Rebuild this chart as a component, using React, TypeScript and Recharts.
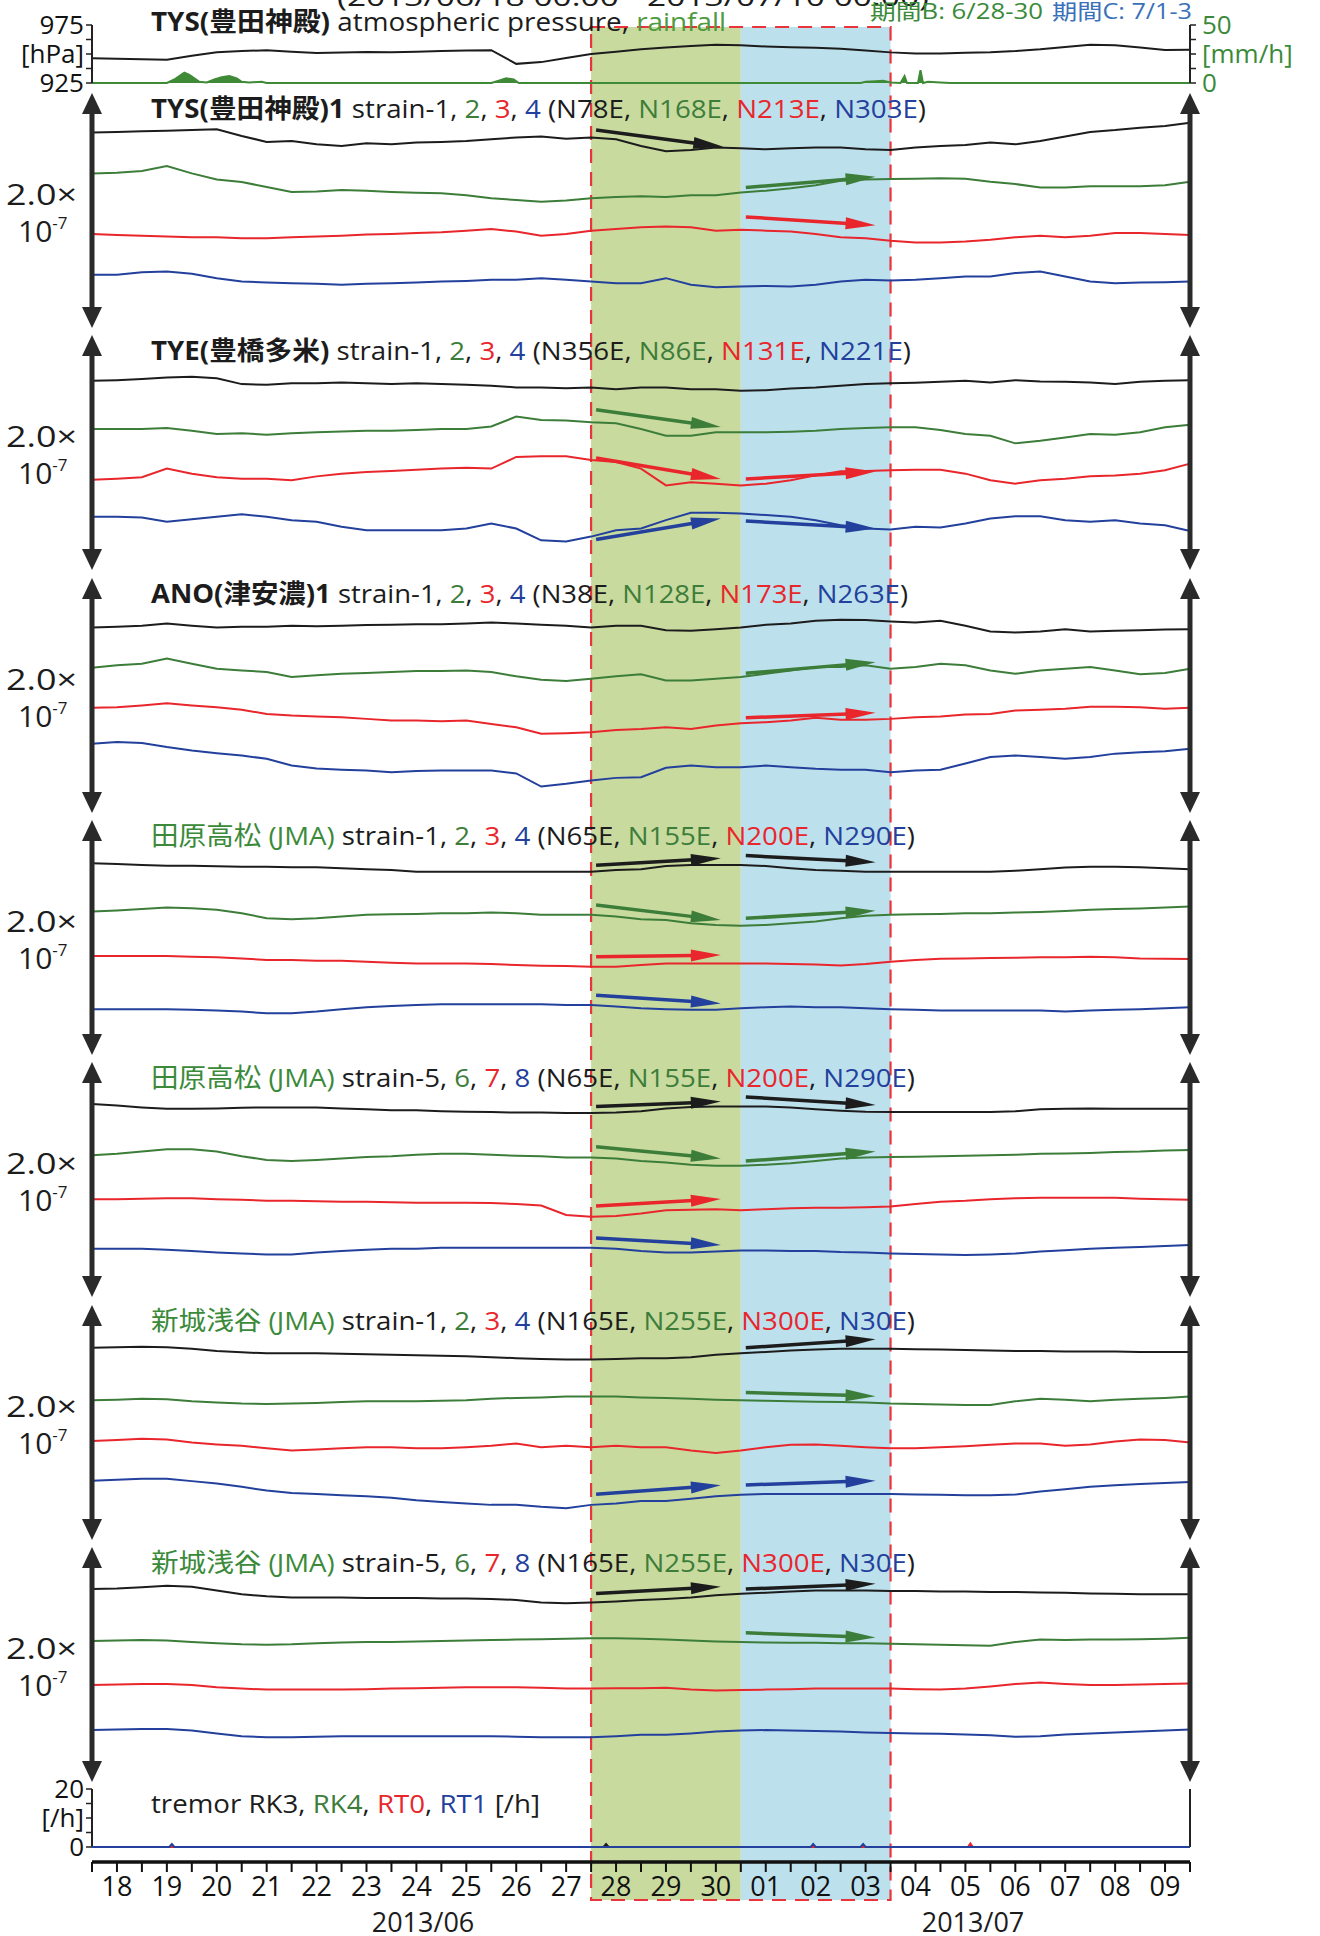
import React from "react";
import { ComposedChart, LineChart, Line, Area, XAxis, YAxis, ReferenceLine, ReferenceArea } from "recharts";

const FONT = '"Open Sans", "Noto Sans CJK JP", sans-serif';
const BLACK = "#1c1c1c";
const GREEN = "#3d7d3a";
const RED = "#e8262b";
const BLUE = "#22409c";
const LABEL_GREEN = "#3a8a3a";
const COLORS = [BLACK, GREEN, RED, BLUE];

// days since 2013/06/18 00:00, every 12 h
const times = [0, 0.5, 1, 1.5, 2, 2.5, 3, 3.5, 4, 4.5, 5, 5.5, 6, 6.5, 7, 7.5, 8, 8.5, 9, 9.5, 10, 10.5, 11, 11.5, 12, 12.5, 13, 13.5, 14, 14.5, 15, 15.5, 16, 16.5, 17, 17.5, 18, 18.5, 19, 19.5, 20, 20.5, 21, 21.5, 22];
const dayLabels = ["18", "19", "20", "21", "22", "23", "24", "25", "26", "27", "28", "29", "30", "01", "02", "03", "04", "05", "06", "07", "08", "09"];
const periodB = [10, 13];
const periodC = [13, 16];

// TYS atmospheric pressure [hPa]
const pressure = [946.4, 946, 945.5, 945, 948.5, 951.5, 952.5, 953.3, 952, 950.8, 951.4, 951.8, 951.5, 952, 952.5, 953, 953.3, 941.5, 943, 946.5, 950, 952, 954, 955.5, 957, 958, 957.5, 956.5, 955.8, 955.3, 954.6, 953, 951.4, 950.5, 950.5, 951, 951.5, 952.5, 954, 956, 958, 957.5, 955.6, 953.5, 953.6];
// rainfall [mm/h] as [day, value]
const rainfall = [[0, 0], [1.5, 0], [1.65, 3], [1.75, 6], [1.85, 9], [1.95, 7], [2.05, 4], [2.15, 1], [2.3, 0.5], [2.45, 3], [2.6, 5], [2.75, 6], [2.9, 4], [3.0, 1], [3.15, 0.5], [3.4, 1], [3.5, 0], [8.0, 0], [8.15, 2], [8.3, 4], [8.45, 3], [8.55, 0], [15.4, 0], [15.5, 1], [15.7, 1.5], [15.85, 2], [16.0, 0.5], [16.2, 0], [16.28, 6], [16.33, 0], [16.55, 0], [16.6, 11], [16.65, 0], [16.75, 1], [17.0, 0.5], [17.2, 0], [22, 0]];

// strain changes (relative, approx. 1e-9) per component
const tys1 = [0, 0.5, 1, 1.4, 2, 2.7, -2.7, -7.6, -6.8, -9.5, -10.8, -8.6, -9.5, -8, -7.6, -6.8, -5.4, -4, -3.2, -4.9, -4, -5.4, -10.8, -15, -14, -12, -12.7, -13.5, -12.7, -12, -12, -13.5, -14, -12, -10.8, -10, -8, -9.5, -6.8, -3.2, 0.5, 2, 4, 5.4, 8];
const tys2 = [0, 0.5, 2, 6, 0, -5, -7, -11, -15, -14.6, -13.5, -14, -15, -15.7, -16, -17.6, -20, -21.6, -23, -22, -20, -19, -18.4, -19, -17.6, -17.6, -15.4, -14, -12, -9.5, -6, -5, -4.6, -4.3, -4, -4.3, -6.8, -8.6, -11.4, -11.4, -10.3, -10.3, -10.3, -9.5, -6.8];
const tys3 = [0, -0.8, -1.4, -2, -2.7, -2.7, -3.5, -3.5, -2.7, -2, -1.4, -0.5, 0, 0.8, 1.4, 2.7, 4, 2, -1.4, 0, 2.7, 4, 5.4, 6, 5.4, 2.7, 3.5, 2.7, 2, 0, -2.7, -3.5, -5.4, -6.8, -6.8, -6, -4.6, -2.7, -1.4, -2.7, -1.4, 0.8, 0.8, 0, -0.8];
const tys4 = [0, 0, 2, 2.7, 0.8, -2.7, -5.4, -6.2, -6.8, -7.3, -8, -7.3, -6.8, -6.2, -5.4, -4.9, -4, -4, -2.7, -4, -5.4, -6.8, -6.8, -2.7, -8, -10, -9.5, -9, -9.5, -8, -5.4, -4, -4.6, -4, -2.7, -1.4, -1.4, 1.4, 2.7, -1.4, -5.4, -6.8, -6.2, -6, -5.4];

const tye1 = [0, 0.5, 1.4, 2.7, 3.2, 2, -2.7, -3.2, -2, -2, -1.4, -2, -2.7, -2, -2.7, -3.2, -4, -5.4, -5.4, -6, -5.4, -6.8, -5.4, -5.4, -6.8, -6.8, -8, -7.6, -6.2, -5.4, -4, -2.7, -2, -1.6, -0.8, 0, -1.4, 0.5, -0.5, -0.8, -1.4, -2.7, -0.8, 0, 0.5];
const tye2 = [0, 0, 0, 0.8, -1.4, -4, -3.5, -4.6, -3.5, -2.7, -2, -1.4, -1.4, -0.8, 0, 0, 2, 10, 7.3, 6.8, 5.4, 4.6, 0, -5.4, -5.4, -2.7, -2.7, -2.7, -2.2, -1.4, 0, 0.8, 1.4, 1.4, -0.8, -4, -5.4, -11.6, -9.5, -6.8, -4, -4.6, -2.7, 1.4, 3.5];
const tye3 = [0, 0.8, 2, 9, 4.9, 2, 0.8, 0.8, -0.5, 2.7, 4.9, 6.2, 7, 8, 9, 9.7, 9, 18.4, 19, 19, 16, 14.3, 9, -4.6, -2, -3.2, -4.6, -3.2, -0.5, 3.5, 6.8, 7, 7.6, 8, 8, 4.9, -0.5, -3.2, -0.5, 0.8, 2.7, 3.5, 4.9, 7.6, 13];
const tye4 = [0, 0, -0.5, -4, -2, 0, 2, 0, -2.7, -4, -8, -10.8, -10.8, -10.8, -10.8, -9.5, -5.4, -9.5, -19, -20, -16, -10.8, -9.5, -2.7, 3.2, 3.2, 2.7, 1.4, 0, -2.7, -6.8, -9.5, -10.3, -8, -8.6, -5.4, -1.4, 0.5, 0.5, -2.7, -4, -2.7, -5.4, -6.8, -11.4];

const ano1 = [0, 0.5, 1.4, 3.2, 1.4, 0, 0.5, 0.5, 1.4, 1, 1.4, 2, 2.2, 2.7, 2.7, 3.2, 4, 3.2, 2.2, 1.4, 0, 1.4, 1.4, -2.2, -2.7, -1.4, 0, 2.2, 3.2, 5.4, 6.2, 6, 4.9, 4, 5.4, 1.4, -3.2, -4, -3.2, -1.4, -3.2, -2.7, -2.2, -1.6, -1.4];
const ano2 = [0, 2, 3.2, 7.3, 3.2, -0.8, -2.2, -3.5, -7.6, -6.2, -4.9, -4.3, -3.5, -2.7, -2.7, -2.2, -3.5, -7, -9.7, -10.8, -8.9, -7, -5.4, -10.3, -10.3, -8.9, -7.6, -4.9, -2.2, 0.5, 0.5, 2, -0.8, 0.5, 3.2, 2, -2.2, -4.9, -2.2, -0.8, 0.5, -2.2, -5.4, -4.3, -0.8];
const ano3 = [0, 0.5, 2, 3.8, 2, 0.5, -1.6, -4.9, -6.2, -7, -7.6, -8.9, -10.3, -10.3, -10.8, -10.3, -13, -15.7, -21, -20.5, -19.7, -17.8, -17, -15.7, -17, -14.3, -12.4, -11.6, -10.3, -8, -9.7, -9.7, -8.9, -7.6, -7, -5.4, -4.9, -2.2, -1.6, -0.8, 1, 1, 0.5, -0.8, 0];
const ano4 = [0, 1.4, 0.5, -2.7, -5.4, -7.6, -9.5, -12.2, -17.6, -20, -21, -21.6, -23, -22, -21.6, -21.6, -21.6, -24, -34.6, -32.4, -29.7, -27.6, -27, -19.5, -17.6, -19, -19, -17.6, -19, -20.3, -21, -21, -23, -21.6, -21, -16, -10.8, -9.5, -10.8, -12.2, -10.8, -8, -6.8, -6, -4];

const tkm1 = [0, -0.5, -1.4, -2, -2, -2.4, -2.7, -2.7, -3.2, -3.2, -4, -4.9, -5.4, -6.8, -6.8, -6.8, -6.8, -6.8, -6.8, -6.8, -6.8, -5.4, -4.9, -2.2, -1.4, -1.4, -1.4, -2.2, -4, -5.4, -6, -6.8, -6.8, -6.8, -6.8, -6.8, -6.8, -6, -4.9, -3.5, -2.7, -2.7, -3.2, -4, -4.9];
const tkm2 = [0, 0.8, 2, 3.2, 2.7, 1.4, -1.4, -5.4, -6.2, -5.4, -4, -2.7, -2.2, -1.9, -1.4, -1.4, -0.8, -1.4, -2.7, -2.7, -2.7, -4, -6.2, -6.8, -9.5, -10.8, -11.4, -10.8, -9.5, -8, -5.4, -3.5, -2.7, -2.2, -1.9, -1.4, -1.4, -0.8, -0.3, 0.5, 1.4, 2, 2.4, 3.2, 4];
const tkm3 = [0, 0, 0, 0, -0.5, -1, -1.9, -3.2, -3.2, -3.8, -3.8, -4.6, -5.4, -6, -6, -6, -6.5, -7.3, -7.8, -8, -8.6, -8.6, -7.3, -6, -6, -6, -6, -6, -6.5, -6.8, -7.6, -6.5, -4.6, -3.2, -2.2, -1.9, -1.6, -1.4, -1, -1, -0.5, -1, -1.9, -2.2, -2.4];
const tkm4 = [0, 0, 0, 0, -0.5, -1, -1.9, -3.2, -3.2, -1.9, 0, 1.6, 2.7, 3.5, 4, 4, 4, 4, 4, 3.5, 3.5, 2.2, 0.8, 0, -0.5, -0.5, 0.8, 1.6, 2.2, 1.6, 1.6, 0.8, 0, -0.5, -1, -1, -1, -1, -1, -1.9, -1, -0.5, 0, 0.8, 1.6];

const tkm5 = [0, -1.2, -2.7, -3.8, -3.8, -3.5, -3, -2.7, -2.7, -2.7, -3.5, -4.2, -5, -5, -5.8, -6.2, -6.5, -6.9, -6.9, -7.3, -7.3, -6.9, -5.8, -3.5, -2.3, -1.9, -1.9, -1.9, -2.7, -4.2, -5.4, -6.2, -6.5, -6.5, -6.5, -6.5, -6.5, -5.8, -4.2, -3.8, -3.5, -3.8, -3.8, -3.8, -3.8];
const tkm6 = [0, 1.2, 3, 4.9, 4.9, 3, -0.8, -3.8, -4.6, -3.8, -2.7, -1.5, -0.8, 0.4, 1.2, 1.2, 0.4, -0.4, -0.8, -1.9, -1.9, -2.7, -4.6, -5.8, -7.7, -8.5, -8.5, -7.7, -6.5, -4.6, -2.7, -1.9, -1.5, -1.2, -0.8, -0.4, 0, 0.4, 1.2, 1.5, 1.9, 2.7, 3, 3.8, 4.2];
const tkm7 = [0, 0, 0.4, 0.8, 0.8, 0, -0.4, -1.2, -1.2, -1.5, -1.9, -1.9, -2.3, -2.7, -2.7, -2.7, -3, -3.8, -5, -12.7, -14.2, -13.5, -11.5, -8.8, -8.5, -8, -8.8, -8, -7.3, -6.9, -6.9, -6.5, -5.8, -3.8, -1.9, -1.2, 0, 0.8, 1.2, 1.2, 1.2, 1.2, 0.4, 0, -0.4];
const tkm8 = [0, 0, 0, -0.8, -1.9, -3, -3.8, -4.6, -4.6, -3, -1.9, -0.8, 0, 0, 0.8, 0.8, 0.8, 0.8, 0.8, 0.8, 0.8, 0, -1.9, -3, -3, -2.3, -1.5, -1.5, -1.9, -1.9, -2.7, -3, -3.8, -4.2, -4.6, -5, -4.6, -3.8, -2.3, -1.2, 0, 0.8, 1.5, 2.3, 3];

const asa1 = [0, 0.4, 0.8, 0.4, -0.8, -2.7, -3.8, -4.6, -4.6, -4.6, -5, -5.4, -5.8, -6.1, -6.5, -6.9, -7.7, -8.5, -9.2, -9.6, -9.6, -9.2, -8.5, -8.5, -7.7, -5.8, -4.6, -3.5, -2.3, -1.5, -0.8, -0.8, -0.8, -1.2, -1.5, -1.9, -2.3, -2.7, -2.7, -3, -3, -3, -3.5, -3.5, -3.5];
const asa2 = [0, 0.4, 1.2, 0.8, -0.8, -1.9, -2.7, -3, -2.7, -2.3, -1.5, -0.8, -0.8, -0.8, -0.4, 0, 1.2, 1.9, 2.3, 3, 3, 3, 2.3, 1.9, 1.2, 0.4, 0, -0.4, -0.8, -1.2, -1.5, -1.9, -2.7, -3, -3.5, -3.8, -3.8, -0.8, 1.2, 0.4, -0.8, 0.4, 1.2, 1.9, 3];
const asa3 = [0, 0.8, 1.9, 1.2, -1.2, -2.7, -3.8, -5.8, -7.7, -6.9, -5.8, -5, -5, -5.8, -5.8, -5, -3.8, -1.9, -5, -3.8, -5, -3.8, -5, -5, -7.7, -9.6, -7.7, -5, -3, -2.7, -3.8, -5, -5.8, -5.8, -5, -4.2, -3, -1.9, -1.9, -3.8, -2.7, -0.4, 1.2, 0.8, -1.2];
const asa4 = [0, 0.8, 1.5, 1.5, -0.4, -2.3, -5, -8, -10, -10.8, -11.9, -12.7, -13.8, -15.8, -17.3, -18.5, -19.6, -19.6, -21.2, -22.3, -19.6, -18.5, -16.5, -16.5, -14.6, -12.7, -11.5, -10.8, -10.8, -10.8, -10.8, -10.8, -10.8, -11.2, -11.5, -11.9, -11.9, -11.2, -8.8, -6.9, -5, -3.8, -2.7, -1.9, -1.2];

const asa5 = [0, 0.4, 1.5, 2.7, 1.9, -1.2, -4.2, -5.8, -6.9, -6.9, -6.9, -7.3, -7.3, -7.3, -7.7, -7.7, -8, -8.8, -10.8, -11.5, -10.8, -10, -8.8, -8, -6.9, -5, -3.8, -3, -1.9, -1.2, -1.2, -1.2, -1.5, -1.5, -1.9, -1.9, -2.3, -2.3, -2.7, -3, -3.5, -3.8, -4.2, -4.2, -4.2];
const asa6 = [0, 0.4, 0.8, 0.4, -0.8, -1.9, -2.7, -3, -2.7, -1.9, -1.2, -0.8, -0.8, -0.4, 0, 0.4, 0.8, 1.2, 1.5, 1.9, 2.3, 2.3, 1.9, 1.2, 0.4, -0.4, -0.8, -1.2, -1.5, -1.5, -1.9, -1.9, -2.3, -2.7, -3, -3.5, -3.8, -0.8, 1.2, 0.8, 1.2, 1.2, 1.5, 1.9, 2.7];
const asa7 = [0, 0.4, 0.8, 0.8, 0, -1.9, -3, -3.8, -3.8, -3.8, -3.8, -3.5, -3, -2.7, -2.3, -1.9, -1.9, -1.9, -2.3, -3, -3, -2.7, -2.7, -2.3, -3.8, -4.6, -4.2, -3.8, -3.5, -3, -3, -3, -3, -3.5, -3.8, -3, -1.2, 0.8, 1.9, 0.8, 0, 0, 0.4, 0.8, 1.2];
const asa8 = [0, 0.4, 0.8, 0.8, -0.4, -2.7, -5, -5.8, -5.8, -5.4, -5, -5, -5, -5, -5, -5, -5, -5.4, -5.8, -5.8, -5.8, -5, -3.8, -3.8, -2.7, -1.2, -0.4, 0, -0.4, -0.8, -1.2, -1.9, -2.3, -2.7, -3, -3.5, -4.2, -5.4, -5, -3.5, -2.7, -1.9, -1.2, -0.4, 0.4];

// trend arrows: [component, day1, level1, day2, level2]
const tysTrend = [[0, 10.1, 160, 12.65, 146.5], [1, 13.1, 113.6, 15.7, 122.2], [2, 13.1, 89.8, 15.7, 83.1]];
const tyeTrend = [[1, 10.1, 129.6, 12.6, 115.6], [2, 10.1, 90.6, 12.6, 73.6], [2, 13.1, 73.6, 15.7, 79.6], [3, 10.1, 24.6, 12.6, 41.6], [3, 13.1, 39.6, 15.7, 33.6]];
const anoTrend = [[1, 13.1, 112.9, 15.7, 121.9], [2, 13.1, 77, 15.7, 81]];
const tkmTrendA = [[0, 10.1, 153.4, 12.6, 159.1], [0, 13.1, 161.2, 15.7, 155.9], [1, 10.1, 121.2, 12.6, 109.2], [1, 13.1, 110.5, 15.7, 116.7], [2, 10.1, 79.4, 12.6, 80.8], [3, 10.1, 48.4, 12.6, 41.7]];
const tkmTrendB = [[0, 10.1, 154.1, 12.6, 158], [0, 13.1, 161.8, 15.7, 155.2], [1, 10.1, 121.4, 12.6, 111.9], [1, 13.1, 109.9, 15.7, 117.6], [2, 10.1, 73.5, 12.6, 79.2], [3, 10.1, 47.7, 12.6, 42]];
const asaTrendA = [[0, 13.1, 155.4, 15.7, 162.3], [1, 13.1, 119.3, 15.7, 116.3], [3, 10.1, 36.9, 12.6, 44.2], [3, 13.1, 44.5, 15.7, 48]];
const asaTrendB = [[0, 10.1, 152.5, 12.6, 157.9], [0, 13.1, 156, 15.7, 160.2], [1, 13.1, 120.6, 15.7, 116.8]];

// tremor counts [/h] as [day, value]
const rk3 = [[0, 0], [10.25, 0], [10.3, 1], [10.35, 0], [22, 0]];
const rk4 = [[0, 0], [22, 0]];
const rt0 = [[0, 0], [17.55, 0], [17.6, 1.2], [17.65, 0], [22, 0]];
const rt1 = [[0, 0], [1.55, 0], [1.6, 1], [1.65, 0], [14.4, 0], [14.45, 1], [14.5, 0], [15.4, 0], [15.45, 1], [15.5, 0], [22, 0]];

const PANEL_H = 235;
const RANGE = 190;

const panels = [
  { top: 93, series: [tys1, tys2, tys3, tys4], offsets: [158, 125, 76, 43], trends: tysTrend },
  { top: 335, series: [tye1, tye2, tye3, tye4], offsets: [153, 114, 73, 43], trends: tyeTrend },
  { top: 578, series: [ano1, ano2, ano3, ano4], offsets: [150, 117.5, 85, 56], trends: anoTrend },
  { top: 820, series: [tkm1, tkm2, tkm3, tkm4], offsets: [155, 116, 80, 37], trends: tkmTrendA },
  { top: 1062, series: [tkm5, tkm6, tkm7, tkm8], offsets: [156, 114.6, 79, 39], trends: tkmTrendB },
  { top: 1305, series: [asa1, asa2, asa3, asa4], offsets: [155.5, 113, 80, 48], trends: asaTrendA },
  { top: 1547, series: [asa5, asa6, asa7, asa8], offsets: [156, 114, 78.5, 42], trends: asaTrendB },
];

type Seg = [string, string, boolean?];
const makeTitle = (name: string, nameColor: string, bold: boolean, nums: string[], dirs: string[]): Seg[] => [
  [name, nameColor, bold],
  [" strain-" + nums[0] + ", ", BLACK],
  [nums[1], GREEN], [", ", BLACK], [nums[2], RED], [", ", BLACK], [nums[3], BLUE],
  [" (" + dirs[0] + ", ", BLACK], [dirs[1], GREEN], [", ", BLACK], [dirs[2], RED], [", ", BLACK], [dirs[3], BLUE], [")", BLACK],
];
const titles: { segs: Seg[]; width: number }[] = [
  { segs: makeTitle("TYS(豊田神殿)1", BLACK, true, ["1", "2", "3", "4"], ["N78E", "N168E", "N213E", "N303E"]), width: 775 },
  { segs: makeTitle("TYE(豊橋多米)", BLACK, true, ["1", "2", "3", "4"], ["N356E", "N86E", "N131E", "N221E"]), width: 760 },
  { segs: makeTitle("ANO(津安濃)1", BLACK, true, ["1", "2", "3", "4"], ["N38E", "N128E", "N173E", "N263E"]), width: 757 },
  { segs: makeTitle("田原高松 (JMA)", LABEL_GREEN, false, ["1", "2", "3", "4"], ["N65E", "N155E", "N200E", "N290E"]), width: 764 },
  { segs: makeTitle("田原高松 (JMA)", LABEL_GREEN, false, ["5", "6", "7", "8"], ["N65E", "N155E", "N200E", "N290E"]), width: 764 },
  { segs: makeTitle("新城浅谷 (JMA)", LABEL_GREEN, false, ["1", "2", "3", "4"], ["N165E", "N255E", "N300E", "N30E"]), width: 764 },
  { segs: makeTitle("新城浅谷 (JMA)", LABEL_GREEN, false, ["5", "6", "7", "8"], ["N165E", "N255E", "N300E", "N30E"]), width: 764 },
];

const ScaleArrow = (props: any) => {
  const { x1, y1, y2 } = props;
  const top = Math.min(y1, y2);
  const bot = Math.max(y1, y2);
  const hl = 21;
  const hw = 10;
  return (
    <g>
      <line x1={x1} y1={top + hl - 2} x2={x1} y2={bot - hl + 2} stroke="#2a2a2a" strokeWidth={5} />
      <polygon points={`${x1},${top} ${x1 - hw},${top + hl} ${x1 + hw},${top + hl}`} fill="#2a2a2a" />
      <polygon points={`${x1},${bot} ${x1 - hw},${bot - hl} ${x1 + hw},${bot - hl}`} fill="#2a2a2a" />
    </g>
  );
};

const trendArrow = (color: string) => (props: any) => {
  const { x1, y1, x2, y2 } = props;
  const dx = x2 - x1;
  const dy = y2 - y1;
  const len = Math.hypot(dx, dy) || 1;
  const ux = dx / len;
  const uy = dy / len;
  const hl = 30;
  const hw = 6;
  const bx = x2 - ux * hl;
  const by = y2 - uy * hl;
  return (
    <g>
      <line x1={x1} y1={y1} x2={bx + ux * 2} y2={by + uy * 2} stroke={color} strokeWidth={3.5} />
      <polygon points={`${x2},${y2} ${bx - uy * hw},${by + ux * hw} ${bx + uy * hw},${by - ux * hw}`} fill={color} />
    </g>
  );
};

function StrainPanel({ p }: { p: (typeof panels)[number] }) {
  const rows = times.map((t, i) => {
    const r: Record<string, number> = { t };
    p.series.forEach((s, j) => {
      r["s" + j] = p.offsets[j] + s[i];
    });
    return r;
  });
  return (
    <div style={{ position: "absolute", left: 0, top: p.top }}>
      <LineChart width={1320} height={PANEL_H} data={rows} margin={{ top: 0, right: 130, bottom: 0, left: 92 }}>
        <XAxis dataKey="t" type="number" domain={[0, 22]} hide />
        <YAxis type="number" domain={[0, RANGE]} hide />
        {p.series.map((_, j) => (
          <Line key={j} dataKey={"s" + j} type="linear" stroke={COLORS[j]} strokeWidth={2} dot={false} isAnimationActive={false} />
        ))}
        {p.trends.map((a, k) => (
          <ReferenceLine key={"a" + k} segment={[{ x: a[1], y: a[2] }, { x: a[3], y: a[4] }]} shape={trendArrow(COLORS[a[0]])} />
        ))}
        <ReferenceLine segment={[{ x: 0, y: 0 }, { x: 0, y: RANGE }]} shape={ScaleArrow} />
        <ReferenceLine segment={[{ x: 22, y: 0 }, { x: 22, y: RANGE }]} shape={ScaleArrow} />
      </LineChart>
    </div>
  );
}

export default function App() {
  const pressureRows = times.map((t, i) => ({ t, p: pressure[i] }));
  const rainRows = rainfall.map(([t, r]) => ({ t, r }));
  const tremor = [rk3, rk4, rt0, rt1].map((s) => s.map(([t, v]) => ({ t, v })));
  const axisTick = { fontSize: 26, fill: "#111", fontFamily: FONT };

  return (
    <div style={{ position: "absolute", left: 0, top: 0, width: 1320, height: 1936, background: "#fff", overflow: "hidden", fontFamily: FONT }}>
      {/* periods B and C */}
      <div style={{ position: "absolute", left: 0, top: 0 }}>
        <ComposedChart width={1320} height={1936} margin={{ top: 27, right: 130, bottom: 36, left: 92 }}>
          <XAxis dataKey="t" type="number" domain={[0, 22]} hide />
          <YAxis type="number" domain={[0, 1]} hide />
          <Line data={[{ t: 0, v: 0 }, { t: 22, v: 0 }]} dataKey="v" stroke="none" dot={false} isAnimationActive={false} />
          <ReferenceArea x1={periodB[0]} x2={periodB[1]} fill="#c9da9f" fillOpacity={1} stroke="none" />
          <ReferenceArea x1={periodC[0]} x2={periodC[1]} fill="#bde0ed" fillOpacity={1} stroke="none" />
          <ReferenceArea x1={periodB[0]} x2={periodC[1]} fill="none" stroke="#e8343a" strokeWidth={2.2} strokeDasharray="14 9" />
        </ComposedChart>
      </div>

      {/* pressure & rainfall */}
      <div style={{ position: "absolute", left: 0, top: 0 }}>
        <ComposedChart width={1320} height={110} margin={{ top: 25, right: 0, bottom: 27, left: 0 }}>
          <XAxis dataKey="t" type="number" domain={[0, 22]} hide />
          <YAxis
            yAxisId="p"
            type="number"
            domain={[925, 975]}
            ticks={[925, 937.5, 950, 962.5, 975]}
            interval={0}
            width={92}
            tickFormatter={(v: number) => (v === 975 ? "975" : v === 950 ? "[hPa]" : v === 925 ? "925" : "")}
            tick={axisTick}
            tickLine={{ stroke: "#222", strokeWidth: 1.5 }}
            axisLine={{ stroke: "#222", strokeWidth: 2 }}
          />
          <YAxis
            yAxisId="r"
            orientation="right"
            type="number"
            domain={[0, 50]}
            ticks={[0, 12.5, 25, 37.5, 50]}
            interval={0}
            width={130}
            tickMargin={6}
            tickFormatter={(v: number) => (v === 50 ? "50" : v === 25 ? "[mm/h]" : v === 0 ? "0" : "")}
            tick={{ ...axisTick, fill: LABEL_GREEN }}
            tickLine={{ stroke: "#222", strokeWidth: 1.5 }}
            axisLine={{ stroke: "#222", strokeWidth: 2 }}
          />
          <Area yAxisId="r" data={rainRows} dataKey="r" type="linear" stroke="#3f8a37" strokeWidth={2} fill="#3f8a37" fillOpacity={1} isAnimationActive={false} />
          <Line yAxisId="p" data={pressureRows} dataKey="p" type="linear" stroke={BLACK} strokeWidth={2} dot={false} isAnimationActive={false} />
        </ComposedChart>
      </div>

      {panels.map((p, i) => (
        <StrainPanel key={i} p={p} />
      ))}

      {/* tremor + time axis */}
      <div style={{ position: "absolute", left: 0, top: 1770 }}>
        <LineChart width={1320} height={166} margin={{ top: 19, right: 130, bottom: 0, left: 0 }}>
          <XAxis
            dataKey="t"
            type="number"
            domain={[0, 22]}
            ticks={times}
            interval={0}
            height={74}
            tickSize={10}
            tickMargin={5}
            tickFormatter={(v: number) => (v % 1 === 0.5 ? dayLabels[Math.floor(v)] : "")}
            tick={{ ...axisTick, fontSize: 27 }}
            tickLine={{ stroke: "#111", strokeWidth: 2 }}
            axisLine={{ stroke: "#111", strokeWidth: 3.5 }}
          />
          <YAxis
            type="number"
            domain={[0, 20]}
            ticks={[0, 5, 10, 15, 20]}
            interval={0}
            width={92}
            padding={{ top: 0, bottom: 15 }}
            tickFormatter={(v: number) => (v === 20 ? "20" : v === 10 ? "[/h]" : v === 0 ? "0" : "")}
            tick={axisTick}
            tickLine={{ stroke: "#222", strokeWidth: 1.5 }}
            axisLine={false}
          />
          <ReferenceLine segment={[{ x: 0, y: 0 }, { x: 0, y: 20 }]} stroke="#222" strokeWidth={2} />
          <ReferenceLine segment={[{ x: 22, y: 0 }, { x: 22, y: 20 }]} stroke="#222" strokeWidth={2} />
          {tremor.map((d, j) => (
            <Line key={j} data={d} dataKey="v" type="linear" stroke={COLORS[j]} strokeWidth={2} dot={false} isAnimationActive={false} />
          ))}
        </LineChart>
      </div>

      {/* text */}
      <svg width={1320} height={1936} style={{ position: "absolute", left: 0, top: 0, pointerEvents: "none" }} fontFamily={FONT}>
        <text x={337} y={6} fontSize={26} fill={BLACK} textLength={592} lengthAdjust="spacingAndGlyphs">
          (2013/06/18 00:00 - 2013/07/10 00:00)
        </text>
        <text x={870} y={19} fontSize={21} fill={LABEL_GREEN} textLength={173} lengthAdjust="spacingAndGlyphs">
          期間B: 6/28-30
        </text>
        <text x={1052} y={19} fontSize={21} fill="#3a70b8" textLength={140} lengthAdjust="spacingAndGlyphs">
          期間C: 7/1-3
        </text>
        <text x={151} y={31} fontSize={26} fill={BLACK} textLength={575} lengthAdjust="spacingAndGlyphs">
          <tspan fontWeight="bold">TYS(豊田神殿)</tspan>
          <tspan> atmospheric pressure, </tspan>
          <tspan fill="#4e9a3e">rainfall</tspan>
        </text>
        {panels.map((p, i) => (
          <g key={i}>
            <text x={151} y={p.top + 25} fontSize={26} textLength={titles[i].width} lengthAdjust="spacingAndGlyphs">
              {titles[i].segs.map((s, k) => (
                <tspan key={k} fill={s[1]} fontWeight={s[2] ? "bold" : "normal"}>
                  {s[0]}
                </tspan>
              ))}
            </text>
            <text x={6} y={p.top + 112} fontSize={30} fill={BLACK} textLength={71} lengthAdjust="spacingAndGlyphs">
              2.0×
            </text>
            <text x={18} y={p.top + 149} fontSize={30} fill={BLACK}>
              10<tspan fontSize={17} dy={-13}>-7</tspan>
            </text>
          </g>
        ))}
        <text x={151} y={1813} fontSize={26} fill={BLACK} textLength={389} lengthAdjust="spacingAndGlyphs">
          <tspan>tremor RK3, </tspan>
          <tspan fill={GREEN}>RK4</tspan>
          <tspan>, </tspan>
          <tspan fill={RED}>RT0</tspan>
          <tspan>, </tspan>
          <tspan fill={BLUE}>RT1</tspan>
          <tspan> [/h]</tspan>
        </text>
        <text x={423} y={1932} fontSize={27} fill={BLACK} textAnchor="middle">
          2013/06
        </text>
        <text x={973} y={1932} fontSize={27} fill={BLACK} textAnchor="middle">
          2013/07
        </text>
      </svg>
    </div>
  );
}
